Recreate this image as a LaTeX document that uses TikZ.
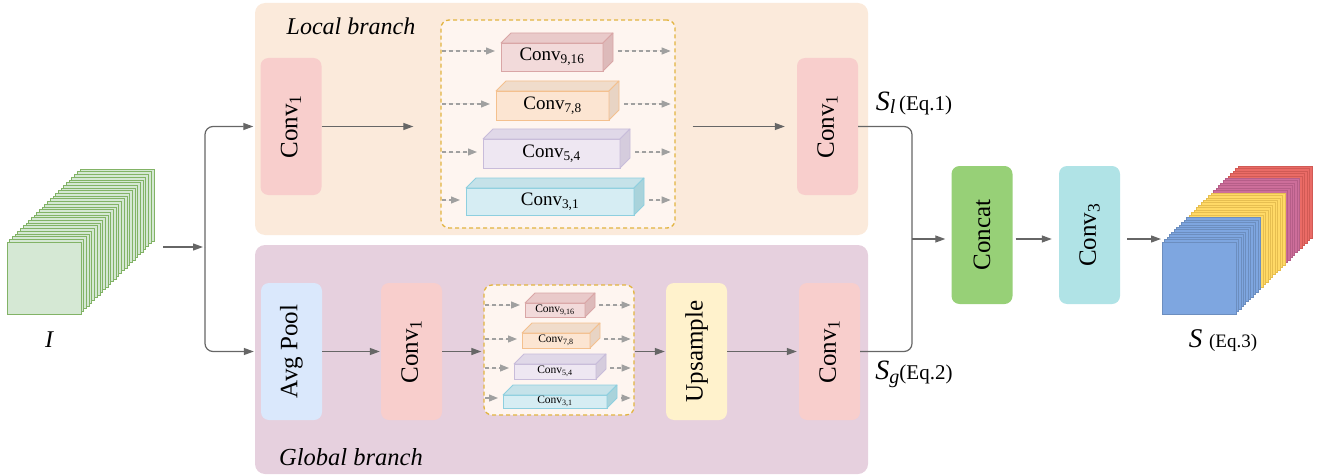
\documentclass[tikz,border=0pt]{standalone}
\usepackage{fontspec}
\setmainfont{Liberation Serif}
\usetikzlibrary{arrows.meta,calc}

% panel and box colours
\definecolor{localbg}{HTML}{FBEADB}
\definecolor{globalbg}{HTML}{E6D0DE}
\definecolor{msbg}{HTML}{FEF5F0}
\definecolor{msedge}{HTML}{E2B440}
\definecolor{convred}{HTML}{F8CECC}
\definecolor{poolblue}{HTML}{DAE8FC}
\definecolor{upyellow}{HTML}{FFF2CC}
\definecolor{catgreen}{HTML}{97D077}
\definecolor{convcyan}{HTML}{B0E3E6}
\definecolor{arrowgray}{HTML}{666666}
\definecolor{dashgray}{HTML}{A0A0A0}
% cuboid colours: front / top / side / edge
\definecolor{pkfront}{HTML}{F2DADA}\definecolor{pktop}{HTML}{E9CACA}\definecolor{pkside}{HTML}{DDBABA}\definecolor{pkedge}{HTML}{D9A6A6}
\definecolor{orfront}{HTML}{FCE5D2}\definecolor{ortop}{HTML}{F0DCCB}\definecolor{orside}{HTML}{E8D4C4}\definecolor{oredge}{HTML}{F4C08E}
\definecolor{lvfront}{HTML}{EEE7F2}\definecolor{lvtop}{HTML}{E0D8E8}\definecolor{lvside}{HTML}{D5CCDD}\definecolor{lvedge}{HTML}{C8BCDA}
\definecolor{cyfront}{HTML}{D6EDF3}\definecolor{cytop}{HTML}{C5E2E9}\definecolor{cyside}{HTML}{A9D3DB}\definecolor{cyedge}{HTML}{8ECFDF}
% feature-map stacks
\definecolor{ingreen}{HTML}{D5E8D4}\definecolor{ingreenedge}{HTML}{82B366}
\definecolor{sblue}{HTML}{7EA6E0}\definecolor{sblueedge}{HTML}{6C8EBF}
\definecolor{syellow}{HTML}{FFD966}\definecolor{syellowedge}{HTML}{E6BE50}
\definecolor{spink}{HTML}{CD6E9A}\definecolor{spinkedge}{HTML}{B65E88}
\definecolor{sred}{HTML}{EA6B66}\definecolor{srededge}{HTML}{D15A55}

\tikzset{
  panel/.style={rounded corners=10pt, inner sep=0pt, outer sep=0pt},
  opbox/.style={rounded corners=8pt, inner sep=0pt, minimum width=61pt,
    minimum height=137pt, font=\fontsize{25}{30}\selectfont},
  msbox/.style={draw=msedge, fill=msbg, line width=1.3pt,
    dash pattern=on 4pt off 3pt, rounded corners=8pt, inner sep=0pt},
  arr/.style={draw=arrowgray, line width=1.2pt, -{Triangle[length=10pt,width=7pt]}},
  link/.style={draw=arrowgray, line width=1.2pt},
  darr/.style={draw=dashgray, fill=dashgray, line width=1.2pt,
    dash pattern=on 4pt off 3pt, -{Triangle[length=9pt,width=7pt]}},
  layer/.style={line width=0.7pt},
}

% #1 name, #2 cx, #3 cy, #4 width, #5 height, #6 colour prefix,
% #7 font size, #8 subscript, #9 depth
\newcommand{\cuboid}[9]{%
  \node[inner sep=0pt, outer sep=0pt, minimum width=#4, minimum height=#5,
    fill=#6front, draw=#6edge, line width=0.8pt,
    font=\fontsize{#7}{#7}\selectfont] (#1) at (#2,#3) {Conv\textsubscript{#8}};
  \filldraw[fill=#6top, draw=#6edge, line width=0.8pt, line join=round]
    (#1.north west) -- ++(#9,-#9) -- ++(#4,0) -- (#1.north east) -- cycle;
  \filldraw[fill=#6side, draw=#6edge, line width=0.8pt, line join=round]
    (#1.north east) -- ++(#9,-#9) -- ++(0,#5) -- (#1.south east) -- cycle;
}

\begin{document}
\begin{tikzpicture}[x=1pt,y=-1pt]
\useasboundingbox (0,0) rectangle (1319,476);

% branch panels
\node[panel, fill=localbg, minimum width=613, minimum height=232] (local) at (561.5,119) {};
\node[panel, fill=globalbg, minimum width=613, minimum height=229] (global) at (561.5,359.5) {};
\node[font=\fontsize{24}{28}\selectfont\itshape] (localtitle) at (351,26) {Local branch};
\node[font=\fontsize{24.5}{28}\selectfont\itshape] (globaltitle) at (351,457) {Global branch};

% ---------- local branch ----------
\node[opbox, fill=convred] (lconv1) at (291,126.5) {\rotatebox{90}{Conv\textsubscript{1}}};
\node[msbox, minimum width=234, minimum height=208] (lms) at (558,124) {};
\cuboid{lb9}{552}{57}{102}{28}{pk}{19}{9,16}{10}
\cuboid{lb7}{552.5}{105.5}{113}{29}{or}{19}{7,8}{10}
\cuboid{lb5}{551.5}{153.5}{137}{29}{lv}{19}{5,4}{10}
\cuboid{lb3}{550}{201.5}{168}{27}{cy}{19}{3,1}{10}
\coordinate (lr1) at (0,51);
\coordinate (lr2) at (0,104);
\coordinate (lr3) at (0,152);
\coordinate (lr4) at (0,200);
\foreach \b/\r in {lb9/lr1, lb7/lr2, lb5/lr3, lb3/lr4}{
  \draw[darr, shorten <=2pt, shorten >=6pt] (lms.west |- \r) -- (\b.west |- \r);
  \draw[darr, shorten <=15pt, shorten >=5pt] (\b.east |- \r) -- (lms.east |- \r);
}
\node[opbox, fill=convred] (lconv1r) at (827.5,126.5) {\rotatebox{90}{Conv\textsubscript{1}}};
\draw[arr, shorten >=27pt] (lconv1.east) -- (lms.west |- lconv1.east);
\draw[arr, shorten <=17pt, shorten >=12pt] (lms.east |- lconv1r.west) -- (lconv1r.west);

% ---------- global branch ----------
\node[opbox, fill=poolblue] (avg) at (291.5,351.5) {\rotatebox{90}{Avg Pool}};
\node[opbox, fill=convred] (gconv1) at (411.5,351.5) {\rotatebox{90}{Conv\textsubscript{1}}};
\node[msbox, minimum width=150, minimum height=130] (gms) at (559,350) {};
\cuboid{gb9}{555}{310}{60}{14}{pk}{11.5}{9,16}{10}
\cuboid{gb7}{556}{340.5}{68}{15}{or}{11.5}{7,8}{10}
\cuboid{gb5}{555}{371.5}{82}{15}{lv}{11.5}{5,4}{10}
\cuboid{gb3}{555}{401.5}{104}{13}{cy}{11.5}{3,1}{10}
\coordinate (gr1) at (0,305);
\coordinate (gr2) at (0,339);
\coordinate (gr3) at (0,368);
\coordinate (gr4) at (0,398);
\foreach \b/\r in {gb9/gr1, gb7/gr2, gb5/gr3, gb3/gr4}{
  \draw[darr, shorten <=2pt, shorten >=5pt] (gms.west |- \r) -- (\b.west |- \r);
  \draw[darr, shorten <=14pt, shorten >=4pt] (\b.east |- \r) -- (gms.east |- \r);
}
\node[opbox, fill=upyellow] (up) at (696.5,351.5) {\rotatebox{90}{Upsample}};
\node[opbox, fill=convred] (gconv1r) at (829.5,351.5) {\rotatebox{90}{Conv\textsubscript{1}}};
\draw[arr, shorten >=1pt] (avg.east) -- (gconv1.west);
\draw[arr, shorten >=2pt] (gconv1.east) -- (gms.west |- gconv1.east);
\draw[arr, shorten >=1pt] (gms.east |- up.west) -- (up.west);
\draw[arr, shorten >=2pt] (up.east) -- (gconv1r.west);

% ---------- input feature map I ----------
\foreach \i in {27,...,1}
  \filldraw[layer, fill=ingreen, draw=ingreenedge]
    ({7+2.7*\i},{242-2.7*\i}) rectangle ++(74,72);
\node[layer, fill=ingreen, draw=ingreenedge, inner sep=0pt, minimum width=74,
  minimum height=72] (inp) at (44,278) {};
\node[font=\fontsize{24}{28}\selectfont\itshape] (ilabel) at (49,340) {I};

% split into the two branches
\coordinate (inout) at (163,247);
\coordinate (split) at (205,247);
\draw[arr, shorten >=2pt] (inout) -- (split);
\draw[arr, rounded corners=8pt, shorten >=7pt] (split) |- (lconv1.west);
\draw[arr, rounded corners=8pt, shorten >=7pt] (split) |- (avg.west);

% ---------- merge, concat, output ----------
\node[font=\fontsize{21}{24}\selectfont] (sl) at (914,103)
  {\fontsize{28}{30}\selectfont\textit{S}\raisebox{-0.3ex}{\fontsize{20}{22}\selectfont\textit{l}}\fontsize{21}{24}\selectfont\,(Eq.1)};
\node[font=\fontsize{21}{24}\selectfont] (sg) at (914,374)
  {\fontsize{28}{30}\selectfont\textit{S}\raisebox{-0.3ex}{\fontsize{20}{22}\selectfont\textit{g}}\fontsize{21}{24}\selectfont(Eq.2)};
\coordinate (merge) at (912,239);
\draw[link, rounded corners=8pt] (lconv1r.east) -| (merge) |- (gconv1r.east);

\node[opbox, fill=catgreen, minimum height=138pt] (concat) at (982,235) {\rotatebox{90}{Concat}};
\node[opbox, fill=convcyan, minimum height=138pt] (conv3) at (1089.5,235) {\rotatebox{90}{Conv\textsubscript{3}}};
\draw[arr, shorten >=6pt] (merge) -- (merge -| concat.west);
\draw[arr, shorten <=3pt, shorten >=7pt] ([yshift=-4pt]concat.east) -- ([yshift=-4pt]conv3.west);

% output feature map S
\foreach \i in {31,...,27}
  \filldraw[layer, fill=sred, draw=srededge] ({1162+2.45*\i},{242-2.45*\i}) rectangle ++(74,72);
\foreach \i in {26,...,21}
  \filldraw[layer, fill=spink, draw=spinkedge] ({1162+2.45*\i},{242-2.45*\i}) rectangle ++(74,72);
\foreach \i in {20,...,11}
  \filldraw[layer, fill=syellow, draw=syellowedge] ({1162+2.45*\i},{242-2.45*\i}) rectangle ++(74,72);
\foreach \i in {10,...,1}
  \filldraw[layer, fill=sblue, draw=sblueedge] ({1162+2.45*\i},{242-2.45*\i}) rectangle ++(74,72);
\node[layer, fill=sblue, draw=sblueedge, inner sep=0pt, minimum width=74,
  minimum height=72] (out) at (1199,278) {};
\coordinate (outin) at (1161,239);
\draw[arr, shorten <=7pt] ([yshift=-4pt]conv3.east) -- (outin);
\node (slabel) at (1223,341)
  {\fontsize{27}{30}\selectfont\textit{S}\ \fontsize{19}{22}\selectfont(Eq.3)};
\end{tikzpicture}
\end{document}
